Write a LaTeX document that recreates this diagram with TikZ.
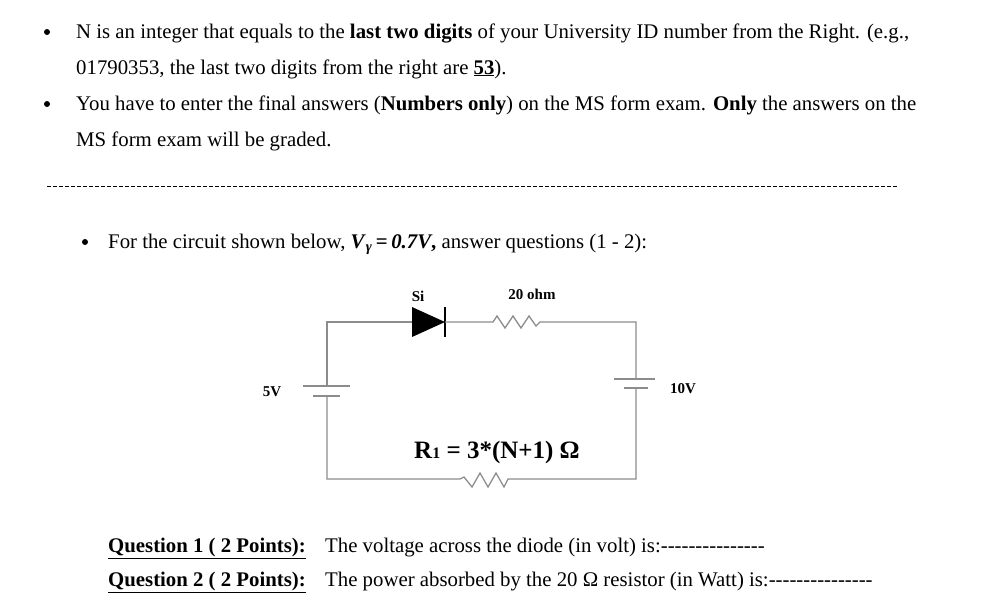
\documentclass[tikz,border=0pt]{standalone}
\usepackage{fontspec}
\setmainfont{Liberation Serif}
\newcommand\dl{-{}-{}-{}-{}-{}-{}-{}-{}-{}-{}-{}-{}-{}-{}-{}}
\begin{document}
\begin{tikzpicture}[x=1pt,y=-1pt,
  txt/.style={anchor=base west,inner sep=0pt,font=\fontsize{20.8}{23}\selectfont},
  lbl/.style={inner sep=0pt,font=\bfseries\fontsize{15}{17}\selectfont},
  wire/.style={draw=black!45,line width=1.3pt},
  bul/.style={circle,fill=black,inner sep=0pt,minimum size=6pt}]
\useasboundingbox (0,0) rectangle (982,606);
\node[bul] (b1) at (47,32) {};
\node[txt] (t1) at (76,38) {N is an integer that equals to the \textbf{last two digits} of your University ID number from the Right. (e.g.,};
\node[txt] (t2) at (76,74) {01790353, the last two digits from the right are \underline{\textbf{53}}).};
\node[bul] (b2) at (47,104) {};
\node[txt] (t3) at (76,110) {You have to enter the final answers (\textbf{Numbers only}) on the MS form exam. \textbf{Only} the answers on the};
\node[txt] (t4) at (76,146) {MS form exam will be graded.};
\draw[dash pattern=on 4pt off 2pt,line width=0.8pt] (47,186) coordinate (d1) -- (897,186) coordinate (d2);
\node[bul] (b3) at (85,242) {};
\node[txt] (t5) at (108,248) {For the circuit shown below, \textbf{\textit{V}\textsubscript{\textit{γ}}\,=\,\textit{0.7V},} answer questions (1 - 2):};
% circuit
\coordinate (tl) at (327,322); \coordinate (tr) at (636,322);
\coordinate (bl) at (327,479); \coordinate (br) at (636,479);
\coordinate (da) at (412,322); \coordinate (dk) at (445,322);
\coordinate (ra) at (493,322); \coordinate (rb) at (540,322);
\coordinate (sa) at (460,479); \coordinate (sb) at (508,479);
\coordinate (lb1) at (327,386); \coordinate (lb2) at (327,396);
\coordinate (rb1) at (636,379); \coordinate (rb2) at (636,388);
\draw[wire] (lb1) -- (tl) -- (da);
\fill (da) ++(0,-15) -- ++(33,15) -- ++(-33,15) -- cycle;
\draw[line width=1.5pt] (445,307) -- (445,337);
\draw[wire] (dk) -- (ra) -- ++(4,-6) -- ++(8,12) -- ++(8,-12) -- ++(8,12) -- ++(8,-12) -- ++(7,10) -- (rb) -- (tr) -- (rb1);
\draw[wire] (rb2) -- (br) -- (sb) -- ++(-4,8) -- ++(-8,-14) -- ++(-8,14) -- ++(-8,-14) -- ++(-8,14) -- ++(-8,-10) -- (sa) -- (bl) -- (lb2);
\draw[wire] (303,386) -- (350,386);
\draw[wire] (313,396) -- (340,396);
\draw[wire] (614,379) -- (655,379);
\draw[wire] (624,388) -- (648,388);
\node[lbl] (si) at (418,296) {Si};
\node[lbl] (r20) at (532,294) {20 ohm};
\node[lbl] (v5) at (272,392) {5V};
\node[lbl] (v10) at (683,389) {10V};
\node[inner sep=0pt,font=\bfseries\fontsize{25}{27}\selectfont] (r1) at (497,452) {R{\fontsize{16}{16}\selectfont 1} = 3*(N+1) Ω};
\node[txt,font=\bfseries\fontsize{20.8}{23}\selectfont] (q1) at (108,552) {\underline{Question 1 ( 2 Points):}};
\node[txt] (a1) at (325,552) {The voltage across the diode (in volt) is:\dl};
\node[txt,font=\bfseries\fontsize{20.8}{23}\selectfont] (q2) at (108,586) {\underline{Question 2 ( 2 Points):}};
\node[txt] (a2) at (325,586) {The power absorbed by the 20 Ω resistor (in Watt) is:\dl};
\end{tikzpicture}
\end{document}
